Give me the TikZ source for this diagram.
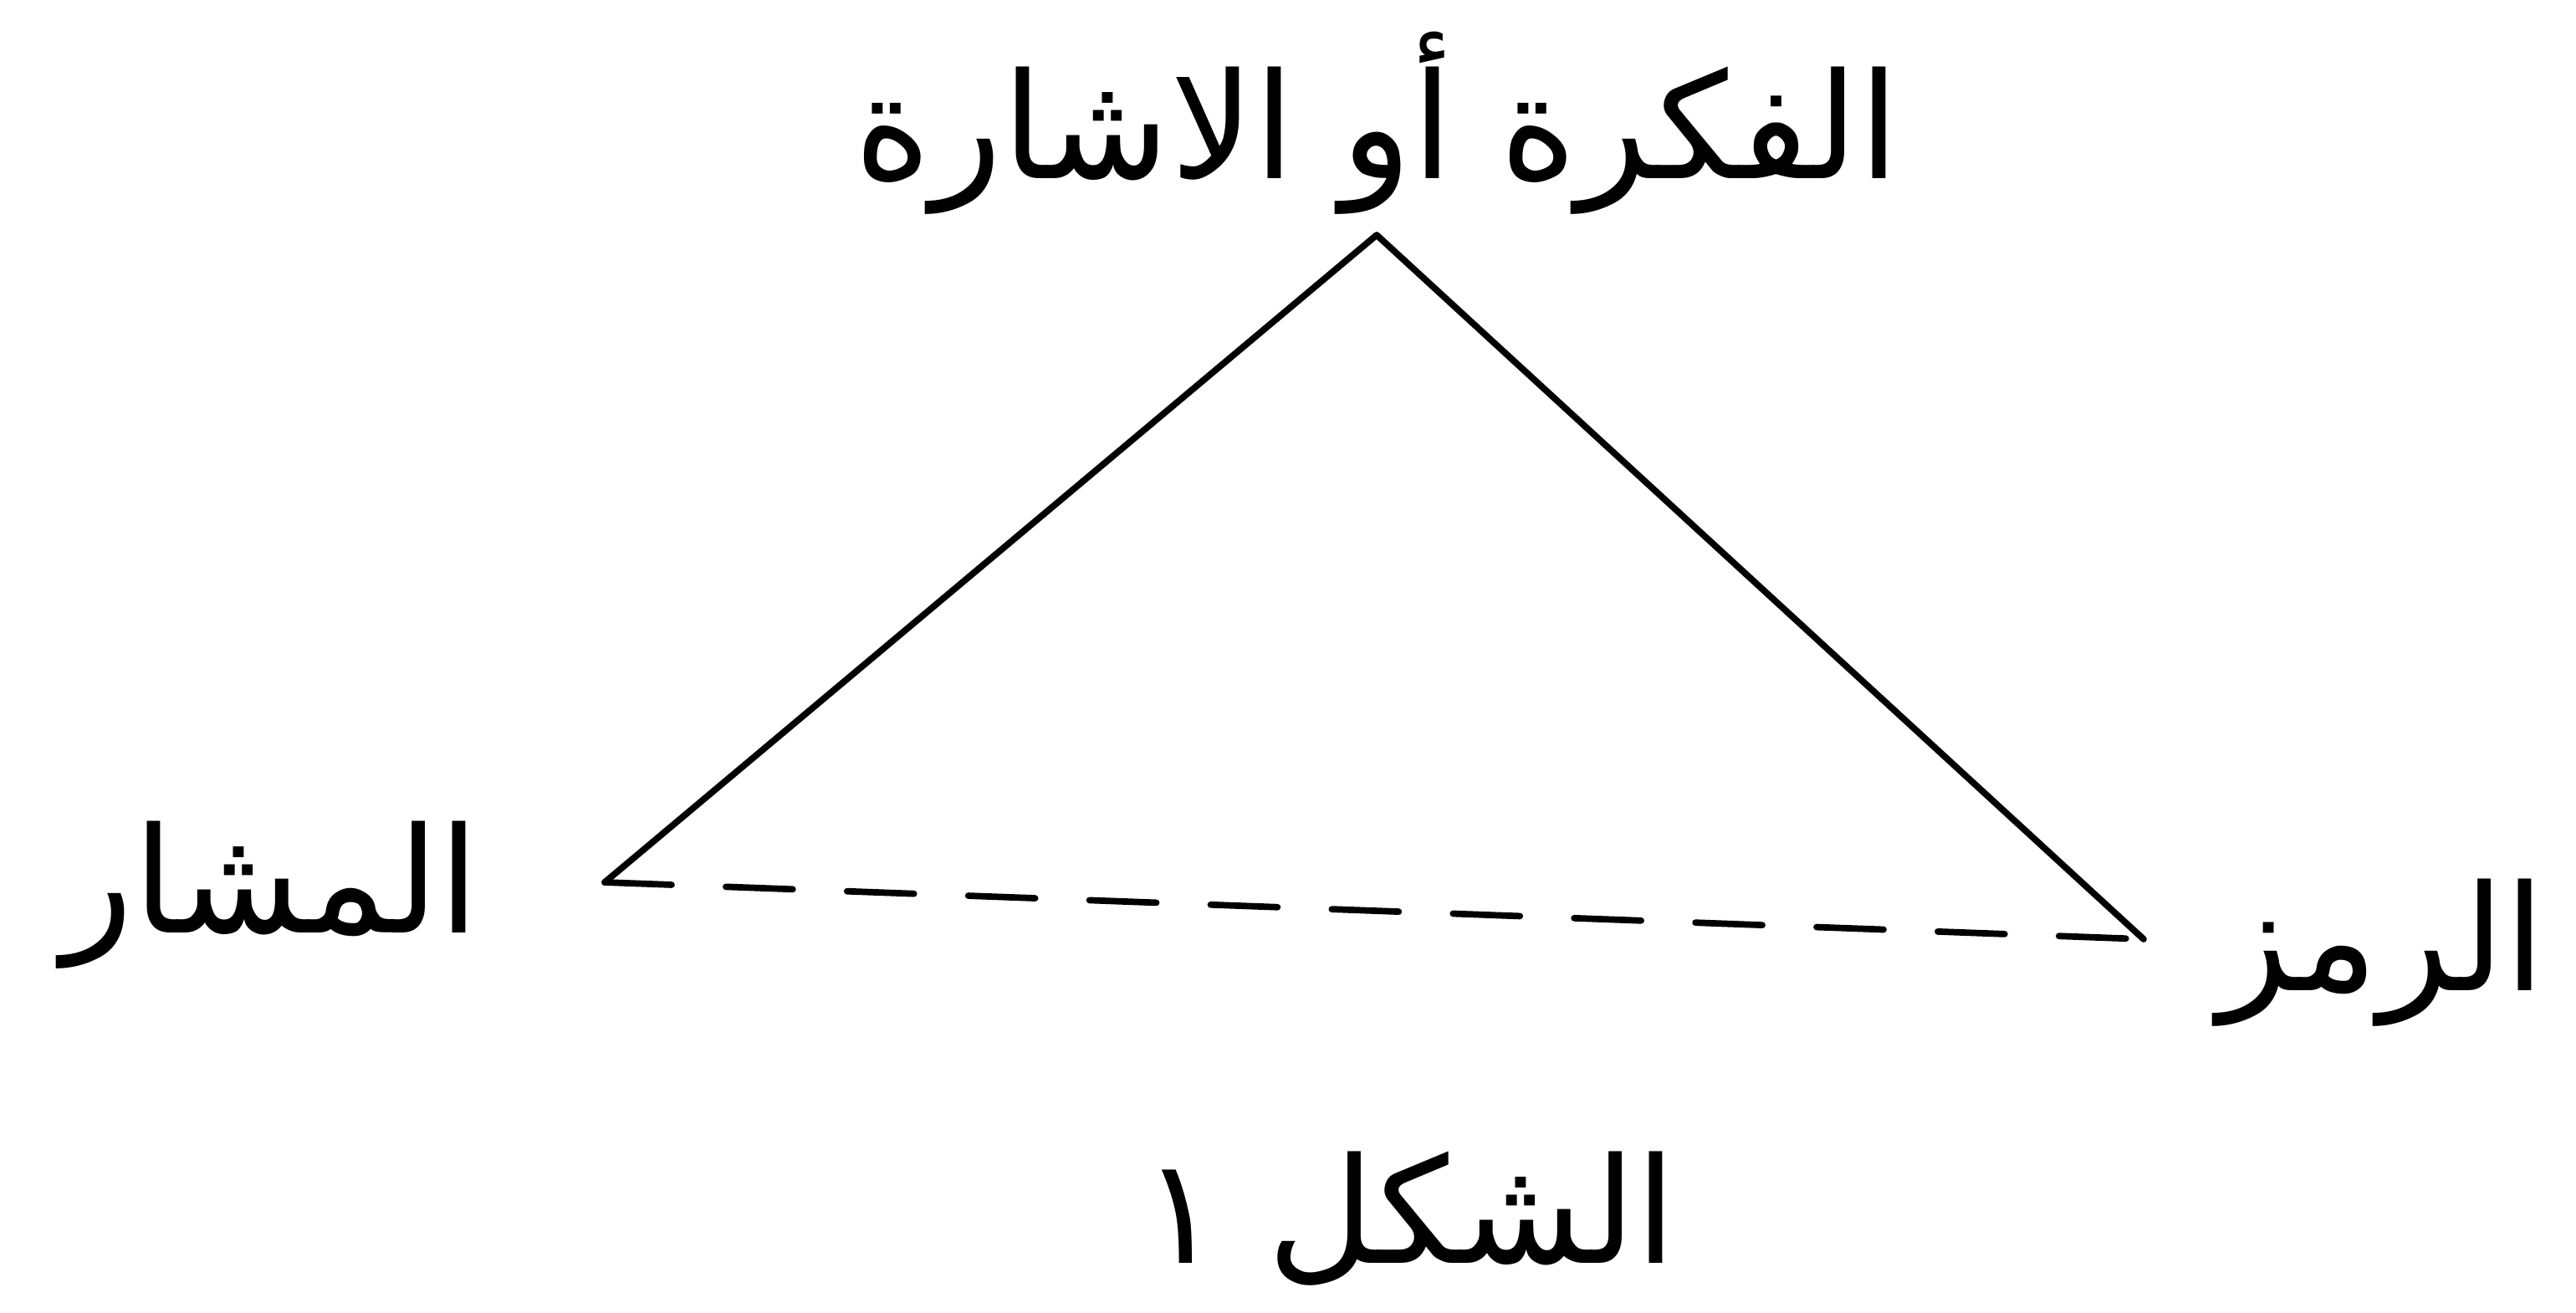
\documentclass[tikz,border=0pt]{standalone}
\usepackage{fontspec}
\newfontfamily\arabicfont[Script=Arabic]{DejaVu Sans}
\TeXXeTstate=1
\usepackage{tikz}

\begin{document}
\begin{tikzpicture}[
    side/.style={line width=2.2pt, line cap=round, line join=round},
    base/.style={side, dash pattern=on 0.8cm off 0.65cm},
    word/.style={font=\arabicfont\fontsize{50}{60}\selectfont, inner sep=0pt},
  ]
  \useasboundingbox (0,0) rectangle (30.8,15.69);
  % sommets du triangle
  \coordinate (apex)  at (16.46,12.88);
  \coordinate (left)  at (7.23,5.14);
  \coordinate (right) at (25.63,4.46);
  % textes
  \node[word] (thought)  at (16.46,14.22) {\beginR الفكرة أو الاشارة\endR};
  \node[word] (referent) at (3.24,4.99)   {\beginR المشار\endR};
  \node[word] (symbol)   at (28.48,4.30)  {\beginR الرمز\endR};
  \node[word] (caption)  at (16.85,1.12)  {\beginR الشكل ١\endR};
  % cotes
  \draw[side] (left) -- (apex) -- (right);
  \draw[base] (left) -- (right);
\end{tikzpicture}
\end{document}
